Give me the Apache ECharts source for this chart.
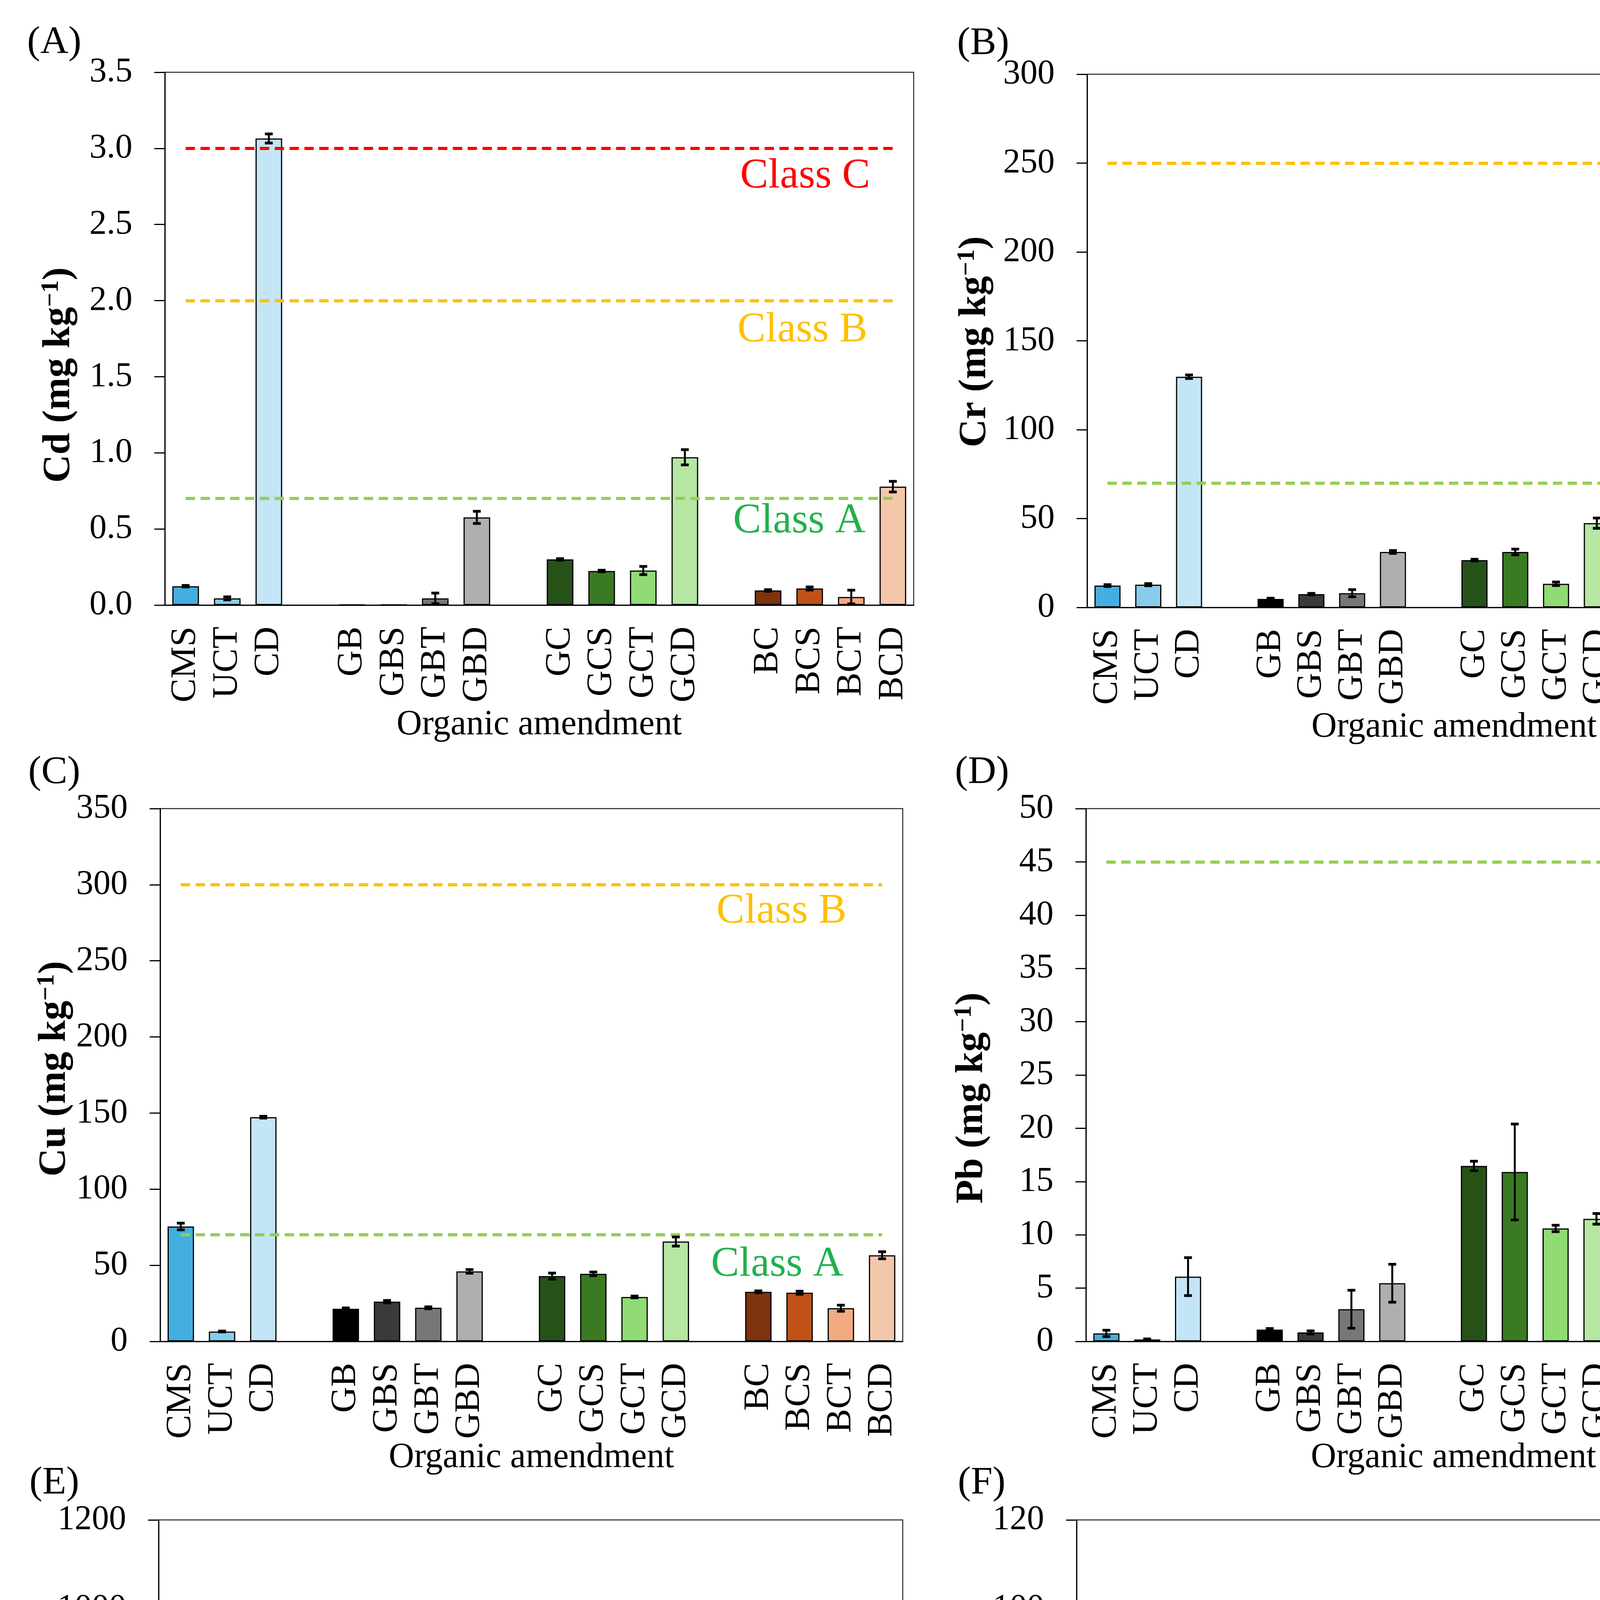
<!DOCTYPE html>
<html><head><meta charset="utf-8">
<script src="https://cdn.jsdelivr.net/npm/echarts@6/dist/echarts.min.js"></script>
<style>html,body{margin:0;padding:0;background:#fff}#c{width:4712px;height:5603px}</style>
</head><body><div id="c"></div>
<script>
const categories = ['CMS','UCT','CD','','GB','GBS','GBT','GBD','','GC','GCS','GCT','GCD','','BC','BCS','BCT','BCD'];
const barColors = ['#45aee0','#87cdeb','#c3e5f5',null,'#000000','#3a3a3a','#777777','#afafaf',null,'#265218','#3a7a22','#90db74','#b5e6a2',null,'#7c330e','#c05218','#f2aa82','#f5c7aa'];

const cdMean = [0.124,0.044,3.065,null,0.003,0.002,0.044,0.576,null,0.300,0.224,0.227,0.971,null,0.096,0.109,0.053,0.778];
const cdErr  = [0.005,0.01,0.03,null,0,0,0.035,0.04,null,0.005,0.005,0.027,0.05,null,0.005,0.01,0.045,0.035];
const crMean = [12.3,12.8,129.8,null,4.8,7.5,8.0,31.2,null,26.6,31.2,13.3,47.4,null,27.2,11.7,8.3,62.6];
const crErr  = [0.5,0.6,1,null,0.4,0.4,2,0.8,null,0.5,1.6,1,2.9,null,9.7,1.6,2.7,8.8];
const cuMean = [75.5,6.5,147.3,null,21.4,26.1,22.1,46.0,null,42.9,44.4,29.2,65.6,null,32.6,32.0,21.8,56.6];
const cuErr  = [2.2,0.3,0.6,null,0.6,0.8,0.6,1.2,null,2,1.2,0.6,3,null,0.6,1,2,2.3];
const pbMean = [0.75,0.18,6.08,null,1.11,0.84,3.02,5.46,null,16.47,15.9,10.6,11.5,null,8.13,6.44,2.75,8.79];
const pbErr  = [0.3,0.05,1.78,null,0.1,0.15,1.78,1.78,null,0.44,4.5,0.3,0.5,null,0.58,0.1,1.87,0.15];
const znMean = [399,75,901,null,32,74,57,206,null,123,157,105,410,null,78,102,54,251];
const znErr  = [13,2,9,null,2,4,12,3,null,2,4,3,45,null,2,4,15,8.5];
const niMean = [68.6,50.8,93.1,null,4.4,6.2,7.8,30.3,null,16.9,19.7,13.3,39.6,null,16.1,9.3,7.9,47.6];
const niErr  = [6.7,0.2,1.1,null,0.3,0.5,1.3,0.6,null,0.2,1.5,0.7,2.3,null,4.3,0.2,1.5,4.4];

const cdClassNames = ['Class C','Class B','Class A'], cdClassValues = [3.0, 2.0, 0.7];
const crClassNames = ['Class B','Class A'], crClassValues = [250, 70];
const cuClassNames = ['Class B','Class A'], cuClassValues = [300, 70];
const pbClassNames = ['Class A'], pbClassValues = [45];
const znClassNames = ['Class C','Class B','Class A'], znClassValues = [1000, 500, 200];
const niClassNames = ['Class C','Class B','Class A'], niClassValues = [100, 90, 25];

const yTicksMax = [3.5, 300, 350, 50, 1200, 120];
const yTicksStep = [0.5, 50, 50, 5, 200, 20];
const yDecimals = [1, 0, 0, 0, 0, 0];
const elements = ['Cd','Cr','Cu','Pb','Zn','Ni'];
const letters = ['(A)','(B)','(C)','(D)','(E)','(F)'];

const lineColor = {'Class C':'#ff0000','Class B':'#ffc000','Class A':'#92d050'};
const textColor = {'Class C':'#ff0000','Class B':'#ffc000','Class A':'#22b14c'};

const data = [
  {mean:cdMean, err:cdErr, cn:cdClassNames, cv:cdClassValues},
  {mean:crMean, err:crErr, cn:crClassNames, cv:crClassValues},
  {mean:cuMean, err:cuErr, cn:cuClassNames, cv:cuClassValues},
  {mean:pbMean, err:pbErr, cn:pbClassNames, cv:pbClassValues},
  {mean:znMean, err:znErr, cn:znClassNames, cv:znClassValues},
  {mean:niMean, err:niErr, cn:niClassNames, cv:niClassValues}
];

const layout = [
  {left:422, top:185, width:1917, height:1364, yx:146, yy:960, lx:139, ly:110, gap:262, off:[[-58,72],[-65,76],[-70,58]]},
  {left:2783, top:190, width:1879, height:1365, yx:2491, yy:875, lx:2517, ly:112, gap:262, off:[[-72,64],[-68,51]]},
  {left:410, top:2070, width:1901, height:1364, yx:135, yy:2736, lx:139, ly:1978, gap:244, off:[[-91,69],[-99,76]]},
  {left:2780, top:2070, width:1882, height:1364, yx:2483, yy:2811, lx:2514, ly:1978, gap:244, off:[[-12,56]]},
  {left:406, top:3891, width:1905, height:1363, yx:126, yy:4572, lx:139, ly:3797, gap:242, off:[[-87,41],[-87,73],[-84,51]]},
  {left:2756, top:3891, width:1906, height:1363, yx:2483, yy:4630, lx:2513, ly:3797, gap:242, off:[[-94,41],[-94,65],[-91,-78]]}
];

const FONT = '"Liberation Serif", "Times New Roman", serif';
const grids = [], xAxes = [], yAxes = [], series = [];
const last = categories.length - 1;

data.forEach((d, i) => {
  const L = layout[i];
  grids.push({left:L.left, top:L.top, width:L.width, height:L.height, show:true, borderColor:'#222', borderWidth:2.5, containLabel:false});
  xAxes.push({
    type:'category', gridIndex:i, data:categories,
    axisTick:{show:false},
    axisLine:{lineStyle:{color:'#000', width:3}},
    axisLabel:{interval:0, rotate:90, fontSize:92, fontFamily:FONT, color:'#000', margin:55},
    name:'Organic amendment', nameLocation:'middle', nameGap:L.gap,
    nameTextStyle:{fontSize:90, fontFamily:FONT, color:'#000'}
  });
  const dec = yDecimals[i];
  yAxes.push({
    type:'value', gridIndex:i, min:0, max:yTicksMax[i], interval:yTicksStep[i],
    axisLine:{show:true, lineStyle:{color:'#000', width:3}},
    axisTick:{show:true, length:27, lineStyle:{color:'#000', width:3}},
    splitLine:{show:false},
    axisLabel:{fontSize:88, fontFamily:FONT, color:'#000', margin:83, formatter:v => v.toFixed(dec)}
  });
  series.push({
    type:'bar', xAxisIndex:i, yAxisIndex:i, barWidth:'64%',
    data:d.mean.map((v, k) => v === null ? null : {value:v, itemStyle:{color:barColors[k]}}),
    itemStyle:{borderColor:'#000', borderWidth:3},
    markLine:{
      silent:true, symbol:['none','none'], label:{show:false}, animation:false,
      data:d.cv.map((v, k) => [
        {coord:[0, v], lineStyle:{color:lineColor[d.cn[k]], type:[24,14], width:8}},
        {coord:[last, v]}
      ])
    }
  });
  const eb = [];
  d.mean.forEach((v, k) => { if (v !== null && d.err[k] > 0) eb.push([k, v, d.err[k]]); });
  series.push({
    type:'custom', xAxisIndex:i, yAxisIndex:i, z:10, data:eb,
    renderItem:(params, api) => {
      const x = api.value(0), m = api.value(1), e = api.value(2);
      const hi = api.coord([x, m + e]), lo = api.coord([x, m - e]);
      const hw = 10;
      return {type:'group', children:[
        {type:'line', shape:{x1:hi[0], y1:hi[1], x2:lo[0], y2:lo[1]}, style:{stroke:'#000', lineWidth:5}},
        {type:'line', shape:{x1:hi[0]-hw, y1:hi[1], x2:hi[0]+hw, y2:hi[1]}, style:{stroke:'#000', lineWidth:7}},
        {type:'line', shape:{x1:lo[0]-hw, y1:lo[1], x2:lo[0]+hw, y2:lo[1]}, style:{stroke:'#000', lineWidth:7}}
      ]};
    }
  });
});

const chart = echarts.init(document.getElementById('c'), null, {renderer:'canvas', width:4712, height:5603});
chart.setOption({animation:false, backgroundColor:'#fff', grid:grids, xAxis:xAxes, yAxis:yAxes, series:series});

const graphics = [];
data.forEach((d, i) => {
  const L = layout[i];
  d.cv.forEach((v, k) => {
    const p = chart.convertToPixel({gridIndex:i}, [last, v]);
    graphics.push({type:'text', x:p[0] + L.off[k][0], y:p[1] + L.off[k][1], z:20,
      style:{text:d.cn[k], fill:textColor[d.cn[k]], fontSize:108, fontFamily:FONT,
        align:'right', textAlign:'right', verticalAlign:'middle', textVerticalAlign:'middle'}});
  });
  graphics.push({type:'text', x:L.yx, y:L.yy, rotation:Math.PI/2, z:20,
    style:{text:'{b|' + elements[i] + ' (mg kg}{s|−1}{b|)}', fill:'#000',
      align:'center', textAlign:'center', verticalAlign:'middle', textVerticalAlign:'middle',
      rich:{
        b:{fontSize:100, fontWeight:'bold', fontFamily:FONT, fill:'#000', color:'#000', lineHeight:110, verticalAlign:'bottom'},
        s:{fontSize:64, fontWeight:'bold', fontFamily:FONT, fill:'#000', color:'#000', lineHeight:110, verticalAlign:'top', padding:[8,0,0,0]}
      }}});
  graphics.push({type:'text', x:L.lx, y:L.ly, z:20,
    style:{text:letters[i], fill:'#000', fontSize:100, fontFamily:FONT,
      align:'center', textAlign:'center', verticalAlign:'middle', textVerticalAlign:'middle'}});
});
chart.setOption({graphic:graphics});
</script>
</body></html>
